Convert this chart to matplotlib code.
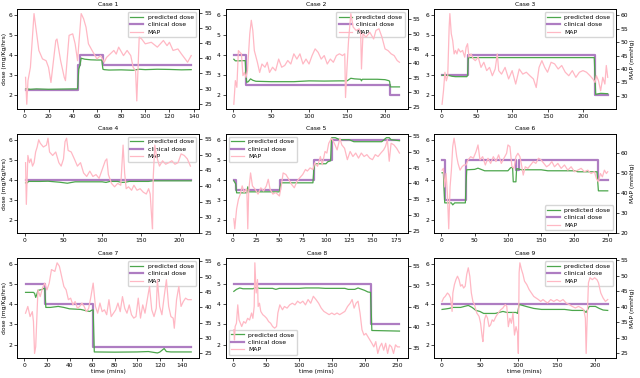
import matplotlib
matplotlib.use("Agg")
import matplotlib.pyplot as plt

FS = 4.4
plt.rcParams['font.family'] = ['DejaVu Sans']
plt.rcParams['font.size'] = FS
plt.rcParams['axes.linewidth'] = 0.6

GREEN = '#4ca64c'
PURPLE = '#a066b8'
PINK = '#ffb8c4'

# ---- case 1 ----
map_t1 = [1, 2, 3, 5, 8, 12, 15, 18, 20, 22, 26, 27, 30, 33, 34, 37, 40, 42, 44, 47, 49, 51, 53, 56, 60,
          63, 66, 68, 74, 76, 78, 82, 85, 88, 90, 92, 93, 95, 97, 100, 105, 110, 115, 118, 120, 123,
          127, 130, 133, 135, 138]
map_v1 = [33.7, 24.8, 32.6, 37, 54.8, 42.6, 39.8, 39.2, 37, 32, 45.9, 46.4, 39.2, 33.7, 32.6, 47.6, 48.1,
          44.8, 39.2, 54.8, 53.1, 50.3, 44.8, 42.6, 39.8, 40.9, 38.7, 40.3, 42.6, 41.4, 43.7, 40.9, 42.6,
          40.9, 37, 35.9, 25.9, 47, 46.4, 44.8, 45.3, 43.7, 45.9, 44.2, 45.3, 42.6, 43.1, 41.4, 39.8,
          38.7, 40.9]
clin_t1 = [1, 44, 46, 65, 138]
clin_v1 = [2.25, 3.5, 4.0, 3.5, 3.5]
pred_t1 = [1, 5, 10, 20, 30, 40, 44, 45, 46, 47, 50, 55, 60, 64, 65, 66, 70, 80, 90, 95, 100, 110, 120,
           130, 138]
pred_v1 = [2.33, 2.3, 2.32, 2.3, 2.31, 2.32, 2.32, 3.3, 3.5, 3.85, 3.8, 3.77, 3.76, 3.76, 3.3, 3.28,
           3.26, 3.27, 3.25, 3.3, 3.28, 3.3, 3.29, 3.27, 3.28]

# ---- case 2 ----
map_t2 = [1, 3, 5, 7, 9, 11, 13, 15, 17, 19, 22, 24, 26, 28, 32, 35, 38, 42, 45, 48, 52, 56, 60, 64,
          68, 72, 76, 80, 84, 88, 92, 96, 100, 104, 108, 112, 116, 120, 124, 128, 132, 136, 140, 144,
          147, 148, 150, 152, 155, 158, 162, 166, 168, 169, 171, 175, 180, 185, 188, 192, 196, 200,
          204, 208, 212, 216, 219]
map_v2 = [25.9, 34, 31.7, 44.3, 43.7, 43.2, 35.7, 36.8, 35.1, 37.4, 50.1, 54.7, 51.2, 44.3, 40.3, 36.8,
          39.7, 38.6, 40.3, 36.8, 38.6, 37.4, 41.4, 38.6, 39.2, 40.9, 39.7, 43.2, 41.4, 43.2, 39.7,
          41.4, 39.7, 42.6, 44.9, 43.7, 41.4, 42.6, 39.7, 41.4, 40.3, 42.6, 43.2, 42.6, 43.2, 28.2,
          38.6, 47.8, 57, 52.4, 51.2, 51.8, 50.1, 38, 50.1, 48.9, 50.6, 48.3, 51.2, 51.8, 48.9, 44.9,
          44.3, 43.2, 42.6, 40.9, 40.3]
clin_t2 = [1, 17, 206, 219]
clin_v2 = [4.0, 2.5, 2.0, 2.0]
pred_t2 = [1, 3, 8, 16, 17, 18, 20, 23, 26, 30, 50, 80, 100, 120, 140, 150, 155, 160, 168, 169, 170,
           190, 200, 205, 206, 207, 219]
pred_v2 = [3.8, 3.72, 3.72, 3.73, 3.0, 2.65, 2.68, 2.82, 2.75, 2.7, 2.68, 2.68, 2.72, 2.71, 2.72,
           2.72, 2.85, 2.82, 2.8, 2.72, 2.8, 2.8, 2.78, 2.73, 2.7, 2.42, 2.42]

# ---- case 3 ----
map_t3 = [1, 3, 5, 7, 9, 11, 12, 14, 16, 18, 20, 22, 24, 27, 30, 33, 35, 37, 39, 42, 45, 48, 52, 56,
          60, 64, 68, 72, 76, 79, 81, 85, 90, 95, 100, 105, 110, 115, 120, 125, 130, 134, 138, 142,
          146, 150, 155, 160, 165, 170, 175, 180, 185, 190, 195, 200, 205, 210, 214, 217, 219, 222,
          225, 228, 231, 233, 235]
map_v3 = [26.9, 31.9, 38.8, 35.6, 37.5, 55.6, 60.6, 53.1, 50.6, 45.6, 46.9, 45.6, 47.5, 46.3, 46.9,
          44.4, 48.1, 49.4, 44.4, 45.6, 43.8, 43.1, 44.4, 40.6, 42.5, 39.4, 40.6, 37.5, 40, 45.6, 39.4,
          38.1, 40.6, 36.3, 39.4, 34.4, 40, 38.1, 38.8, 37.5, 36.3, 33.1, 40.6, 43.1, 40.6, 38.8, 42.5,
          41.9, 40, 41.3, 38.8, 37.5, 39.4, 36.9, 38.8, 39.4, 38.8, 37.5, 36.3, 35, 37.5, 35.6, 31.9,
          36.9, 34.4, 41.3, 36.9]
clin_t3 = [1, 37, 217, 235]
clin_v3 = [3.0, 4.0, 2.0, 2.0]
pred_t3 = [1, 10, 15, 20, 36, 37, 38, 60, 100, 150, 200, 216, 218, 225, 235]
pred_v3 = [3.0, 3.0, 2.95, 2.93, 2.93, 3.0, 3.88, 3.88, 3.88, 3.88, 3.88, 3.88, 2.05, 2.1, 2.08]

# ---- case 4 ----
map_t4 = [1, 2, 4, 6, 8, 10, 12, 14, 16, 18, 20, 24, 28, 30, 32, 36, 40, 44, 47, 50, 52, 54, 56, 60,
          64, 68, 72, 76, 80, 84, 88, 92, 96, 100, 104, 106, 108, 112, 116, 120, 124, 127, 129, 131,
          134, 138, 141, 145, 149, 153, 157, 160, 162, 164, 165, 166, 168, 170, 174, 178, 182, 186,
          190, 194, 198, 202, 206, 210, 214]
map_v4 = [47.4, 34.1, 49.7, 47.4, 48.6, 46.3, 47.4, 50.8, 52.4, 54.7, 53.6, 52.4, 53, 55.2, 50.8,
          49.7, 50.8, 47.4, 46.3, 48.6, 54.1, 55.2, 51.3, 50.8, 48.6, 46.3, 47.4, 44.1, 43, 44.7, 43,
          43.6, 42.4, 45.2, 48, 48.6, 43.6, 40.8, 39.7, 40.8, 40.2, 53, 44.1, 39.1, 39.7, 38.6, 40.2,
          38.6, 39.1, 38, 37.4, 39.1, 37.4, 29.7, 26.3, 43, 53, 49.7, 46.3, 48, 46.9, 47.4, 48, 46.9,
          47.4, 50.2, 49.7, 48.6, 46.3]
clin_t4 = [1, 215]
clin_v4 = [4.0, 4.0]
pred_t4 = [1, 3, 5, 20, 30, 45, 55, 65, 100, 105, 110, 120, 125, 130, 135, 160, 165, 215]
pred_v4 = [3.85, 3.85, 3.92, 3.92, 3.93, 3.88, 3.83, 3.9, 3.9, 3.87, 3.92, 3.92, 3.87, 3.88, 3.92,
           3.92, 3.95, 3.95]

# ---- case 5 ----
map_t5 = [1, 2, 4, 6, 8, 10, 12, 14, 15, 16, 17, 19, 21, 24, 27, 30, 33, 36, 38, 40, 43, 46, 50, 52,
          54, 57, 60, 63, 66, 69, 72, 75, 78, 80, 83, 86, 88, 91, 94, 96, 99, 101, 103, 106, 109, 112,
          115, 117, 120, 123, 126, 129, 132, 135, 138, 141, 144, 147, 150, 153, 156, 159, 162, 164,
          166, 168, 170, 173, 176, 179]
map_v5 = [28.8, 25.6, 31.9, 35, 36.6, 39.2, 37.1, 38.1, 38.1, 25.6, 37.6, 43.3, 39.2, 38.1, 36.6,
          38.6, 37.6, 39.2, 41.3, 38.1, 36.6, 37.1, 36, 39.2, 43.3, 42.8, 41.3, 39.7, 38.6, 40.7, 41.8,
          42.8, 44.4, 43.9, 44.9, 44.4, 46.5, 45.4, 48.5, 45.9, 50.1, 49.6, 52.7, 54.3, 52.7, 50.6,
          54.3, 52.2, 51.1, 47.5, 50.1, 48.5, 49.6, 48, 49.6, 48.5, 49.1, 48, 47.5, 49.1, 48.5, 49.6,
          50.6, 51.7, 53.8, 47, 52.7, 52.2, 51.1, 49.6]
clin_t5 = [1, 3, 51, 87, 106, 179]
clin_v5 = [4.0, 3.5, 4.0, 5.0, 6.0, 6.0]
pred_t5 = [1, 3, 4, 15, 16, 17, 18, 50, 51, 52, 86, 87, 88, 100, 102, 105, 106, 110, 115, 125, 130,
           160, 165, 168, 170, 179]
pred_v5 = [3.95, 3.8, 3.35, 3.35, 3.65, 3.4, 3.4, 3.4, 3.7, 3.85, 3.85, 4.5, 4.8, 4.8, 4.9, 4.95,
           6.1, 6.1, 6.0, 6.0, 5.9, 5.9, 6.1, 6.1, 6.0, 5.95]

# ---- case 6 ----
map_t6 = [1, 3, 5, 7, 9, 11, 13, 15, 17, 19, 21, 23, 25, 28, 31, 34, 37, 40, 44, 48, 52, 55, 58, 62,
          66, 70, 74, 78, 82, 86, 90, 94, 98, 100, 103, 106, 109, 112, 115, 118, 120, 123, 126, 130,
          134, 138, 142, 146, 150, 154, 158, 162, 166, 170, 175, 180, 185, 190, 195, 200, 205, 210,
          215, 220, 225, 230, 233, 236, 239, 242, 245, 248, 250]
map_v6 = [51.5, 52.4, 43, 49.8, 39.7, 21.9, 43, 51.5, 63.4, 67.6, 63.4, 58.3, 54.9, 51.5, 53.2, 54.1,
          54.1, 56.6, 58.3, 57.5, 60.8, 64.2, 56.6, 58.3, 54.1, 57.5, 54.9, 58.3, 55.8, 59.2, 54.9,
          57.5, 60, 64.2, 63.4, 53.2, 52.4, 58.3, 60, 58.3, 54.9, 49, 53.2, 52.4, 54.1, 55.8, 54.9,
          57.5, 56.6, 54.9, 53.2, 54.1, 55.8, 53.2, 54.9, 52.4, 54.1, 51.5, 53.2, 50.7, 51.5, 52.4,
          50.7, 51.5, 49.8, 50.7, 47.3, 45.6, 49.8, 48.1, 51.5, 49.8, 50.7]
clin_t6 = [1, 5, 37, 112, 116, 235, 250]
clin_v6 = [5.0, 3.0, 5.0, 4.5, 5.0, 4.0, 4.0]
pred_t6 = [1, 3, 4, 5, 15, 17, 20, 36, 37, 38, 50, 55, 65, 100, 104, 107, 108, 112, 113, 115, 120,
           150, 160, 200, 205, 234, 235, 236, 250]
pred_v6 = [4.35, 4.35, 3.5, 2.85, 2.85, 2.75, 2.85, 2.85, 3.8, 4.5, 4.52, 4.58, 4.45, 4.45, 4.6,
           4.62, 3.9, 3.9, 4.55, 4.55, 4.5, 4.5, 4.45, 4.45, 4.4, 4.4, 3.9, 3.45, 3.45]

# ---- case 7 ----
map_t7 = [1, 3, 5, 7, 8, 9, 10, 12, 14, 16, 18, 20, 22, 24, 27, 29, 31, 33, 35, 37, 39, 41, 43, 45,
          47, 49, 51, 53, 55, 57, 59, 61, 63, 65, 67, 69, 71, 73, 75, 77, 79, 81, 83, 85, 87, 89, 91,
          93, 95, 97, 99, 101, 103, 105, 107, 109, 111, 113, 115, 117, 118, 120, 122, 124, 126, 128,
          130, 132, 133, 135, 137, 139, 141, 143, 145, 148]
map_v7 = [38.1, 40.3, 37, 38.6, 35.4, 25, 27.2, 45.7, 43.5, 46.3, 47.9, 45.7, 47.9, 52.3, 51.7, 54.5,
          53.4, 50.1, 46.8, 45.7, 42.5, 43, 40.8, 41.9, 39.7, 40.3, 41.4, 40.3, 38.6, 39.7, 43.5, 47.9,
          40.3, 38.1, 41.4, 38.6, 39.2, 37.6, 42.5, 37, 38.1, 39.2, 41.4, 38.6, 43.5, 39.7, 38.1, 40.8,
          37.6, 36.5, 37, 43, 36.5, 40.8, 38.1, 42.5, 46.8, 39.2, 37, 39.7, 49, 40.3, 37.6, 43.5, 49,
          40.3, 37, 36.5, 33.2, 42.5, 46.8, 40.3, 41.9, 43, 42.5, 42.5]
clin_t7 = [1, 18, 61, 148]
clin_v7 = [5.0, 4.0, 1.9, 1.9]
pred_t7 = [1, 8, 9, 10, 11, 12, 16, 17, 18, 19, 23, 30, 35, 40, 50, 55, 58, 60, 61, 62, 80, 100, 110,
           118, 120, 124, 126, 130, 148]
pred_v7 = [4.6, 4.6, 4.55, 4.35, 4.5, 4.7, 4.75, 4.8, 4.8, 3.85, 3.85, 3.9, 3.85, 3.78, 3.75, 3.68,
           3.65, 3.72, 3.72, 1.63, 1.62, 1.63, 1.65, 1.58, 1.62, 1.8, 1.65, 1.63, 1.63]

# ---- case 8 ----
map_t8 = [1, 2, 3, 5, 7, 9, 11, 13, 16, 19, 22, 25, 28, 30, 32, 33, 35, 37, 38, 40, 42, 45, 48, 51,
          54, 57, 60, 63, 66, 68, 71, 75, 78, 82, 86, 90, 94, 98, 102, 106, 110, 114, 118, 122, 126,
          130, 134, 138, 142, 146, 150, 154, 158, 162, 166, 170, 174, 178, 181, 184, 187, 190, 193,
          196, 199, 202, 205, 208, 211, 214, 217, 220, 223, 226, 229, 232, 235, 238, 241, 244, 247,
          250, 253]
map_v8 = [39.4, 36.9, 40.2, 41, 45.5, 41.8, 41, 40.2, 41.4, 41, 42.2, 41.8, 43.5, 42.2, 45.1, 55.8,
          48.4, 51.7, 45.1, 45.9, 43.9, 43.1, 42.7, 42.2, 41.4, 41, 40.2, 39.8, 40.2, 43.5, 45.5, 44.3,
          45.1, 44.7, 45.5, 45.9, 45.5, 46.4, 45.9, 46.4, 45.5, 46.8, 45.9, 47.6, 46.8, 45.9, 44.7,
          43.9, 43.5, 43.1, 43.5, 43.1, 43.5, 43.1, 43.5, 43.9, 45.1, 45.9, 46.8, 44.7, 45.9, 46.4,
          43.5, 39.4, 38.1, 38.5, 37.7, 36.9, 36.1, 35.2, 36.5, 33.6, 35.2, 36.1, 34.4, 36.1, 33.6,
          35.7, 35.2, 33.6, 35.7, 35.2, 35.2]
clin_t8 = [1, 210, 253]
clin_v8 = [5.0, 3.0, 3.0]
pred_t8 = [1, 3, 5, 10, 15, 30, 35, 40, 60, 65, 70, 100, 110, 130, 140, 170, 175, 185, 190, 200, 205,
           209, 211, 253]
pred_v8 = [4.65, 4.7, 4.75, 4.82, 4.78, 4.78, 4.85, 4.8, 4.8, 4.75, 4.8, 4.8, 4.82, 4.82, 4.8, 4.8,
           4.75, 4.75, 4.82, 4.7, 4.62, 4.6, 2.7, 2.67]

# ---- case 9 ----
map_t9 = [1, 3, 5, 8, 10, 12, 14, 15, 17, 19, 21, 23, 25, 27, 29, 31, 33, 35, 37, 39, 41, 43, 46, 49,
          51, 53, 54, 56, 58, 60, 62, 64, 66, 68, 71, 74, 77, 80, 83, 85, 87, 89, 91, 93, 95, 97, 99,
          100, 101, 102, 104, 106, 108, 111, 114, 117, 120, 123, 126, 129, 132, 135, 138, 142, 146,
          150, 154, 158, 162, 166, 170, 174, 178, 182, 185, 187, 188, 189, 191, 193, 196, 199, 202,
          204, 207, 210, 213, 216]
map_v9 = [41.7, 42.8, 43.3, 44.4, 43.9, 42.8, 38.5, 44.4, 47.1, 48.7, 49.8, 48.7, 46.6, 47.1, 46,
          46.6, 50.4, 52.5, 49.8, 44.4, 41.7, 40.7, 38, 36.9, 34.7, 30.4, 28.8, 35.8, 37.4, 36.3, 33.6,
          34.2, 35.8, 35.3, 36.9, 38, 39, 39.6, 40.7, 40.1, 33.6, 36.3, 34.7, 38, 30.9, 33.6, 31.5, 25,
          50.9, 54.1, 52, 50.4, 48.2, 47.1, 45.5, 44.4, 43.3, 42.8, 42.3, 41.7, 42.3, 41.7, 41.2, 42.3,
          41.7, 42.3, 41.7, 42.3, 41.2, 40.7, 40.1, 39.6, 40.1, 39.6, 39, 36.3, 25, 33.6, 47.7, 49.3,
          48.7, 49.3, 48.7, 47.7, 44.4, 42.8, 41.7, 42.3]
clin_t9 = [1, 216]
clin_v9 = [4.0, 4.0]
pred_t9 = [1, 5, 10, 15, 25, 30, 35, 40, 45, 50, 55, 70, 75, 80, 85, 97, 99, 101, 110, 120, 130, 160,
           170, 185, 188, 192, 200, 205, 210, 216]
pred_v9 = [3.75, 3.77, 3.8, 3.85, 3.85, 3.9, 3.95, 3.85, 3.7, 3.65, 3.55, 3.55, 3.6, 3.65, 3.6, 3.6,
           3.55, 4.0, 3.9, 3.8, 3.75, 3.75, 3.7, 3.7, 3.6, 3.9, 3.9, 3.8, 3.72, 3.7]

cases = [
    (map_t1, map_v1, clin_t1, clin_v1, pred_t1, pred_v1, 'upper right'),
    (map_t2, map_v2, clin_t2, clin_v2, pred_t2, pred_v2, 'upper right'),
    (map_t3, map_v3, clin_t3, clin_v3, pred_t3, pred_v3, 'upper right'),
    (map_t4, map_v4, clin_t4, clin_v4, pred_t4, pred_v4, 'upper right'),
    (map_t5, map_v5, clin_t5, clin_v5, pred_t5, pred_v5, 'upper left'),
    (map_t6, map_v6, clin_t6, clin_v6, pred_t6, pred_v6, 'lower right'),
    (map_t7, map_v7, clin_t7, clin_v7, pred_t7, pred_v7, 'upper right'),
    (map_t8, map_v8, clin_t8, clin_v8, pred_t8, pred_v8, 'lower left'),
    (map_t9, map_v9, clin_t9, clin_v9, pred_t9, pred_v9, 'upper right'),
]

fig, axes = plt.subplots(3, 3, figsize=(6.4, 3.78), dpi=100)
fig.subplots_adjust(left=0.027, right=0.9625, top=0.976, bottom=0.053, wspace=0.143, hspace=0.25)

for i, (mt, mv, ct, cv, pt, pv, loc) in enumerate(cases):
    ax = axes[i // 3][i % 3]
    l1, = ax.plot(pt, pv, color=GREEN, lw=0.9, label='predicted dose', zorder=3)
    l2, = ax.plot(ct, cv, color=PURPLE, lw=1.6, alpha=0.85, drawstyle='steps-post',
                  label='clinical dose', zorder=2)
    ax.set_ylim(1.33, 6.3)
    ax2 = ax.twinx()
    l3, = ax2.plot(mt, mv, color=PINK, lw=0.9, label='MAP')
    ax.legend(handles=[l1, l2, l3], loc=loc, fontsize=FS, borderpad=0.4, labelspacing=0.35,
              handlelength=2.1, handletextpad=0.75, framealpha=0.8)
    ax.set_title('Case %d' % (i + 1), fontsize=4.3, pad=2.5)
    for a in (ax, ax2):
        a.tick_params(length=2, width=0.5, pad=1.5, labelsize=4.3)
    if i % 3 == 0:
        ax.set_ylabel('dose (mg/Kg/hrs)', fontsize=4.3, labelpad=1)
    if i % 3 == 2:
        ax2.set_ylabel('MAP (mmHg)', fontsize=4.3, labelpad=1)
    if i // 3 == 2:
        ax.set_xlabel('time (mins)', fontsize=4.3, labelpad=1)

fig.savefig('out.png', dpi=100)
